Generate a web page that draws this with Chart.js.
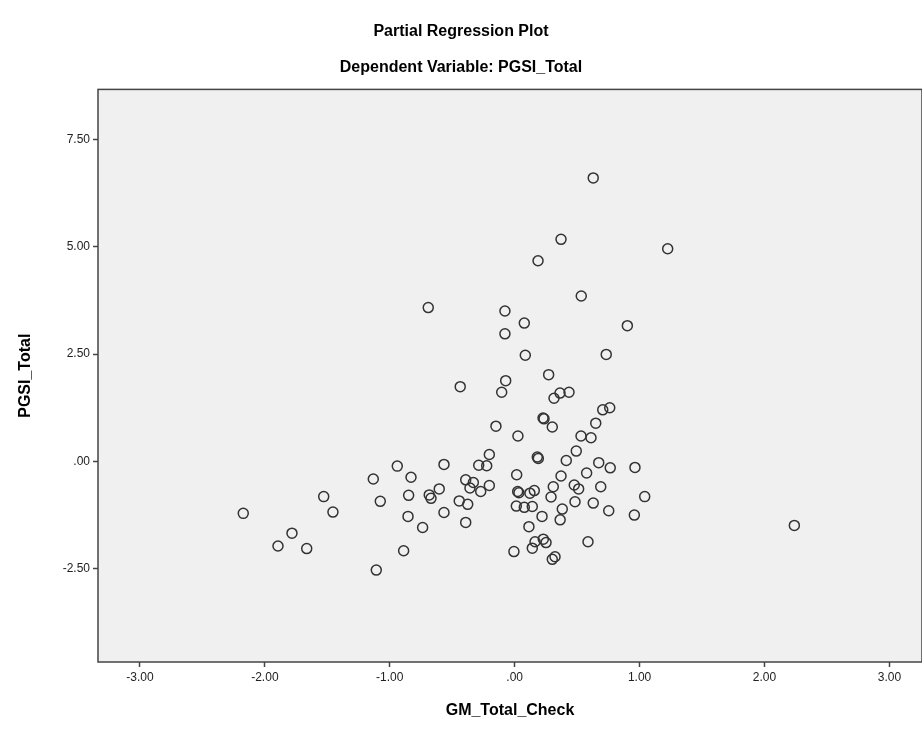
<!DOCTYPE html>
<html>
<head>
<meta charset="utf-8">
<script src="https://cdn.jsdelivr.net/npm/chart.js@4"></script>
<style>
  html, body { margin: 0; padding: 0; background: #ffffff; }
  #wrap { width: 922px; height: 733px; }
</style>
</head>
<body>
<div id="wrap"><canvas id="grafico"></canvas></div>
<script>
// GM_Total_Check (x) y PGSI_Total (y)
const gmTotal = [
  0.629, 0.371, 1.225, 0.187, 0.533, -0.692, -0.078, 0.077, 0.902, -0.078,
  0.085, 0.733, -0.436, -0.072, -0.104, 0.272, 0.363, 0.435, 0.315, 0.705,
  0.761, 0.227, 0.235, 0.301, -0.150, 0.026, 0.649, 0.531, 0.611, 0.493,
  0.181, 0.189, -0.203, 0.413, -0.566, -0.288, -0.224, 0.673, 0.765, 0.963,
  0.016, 0.576, 0.371, -0.392, -0.331, -0.358, -0.272, -0.203, -0.604, -0.684,
  -0.670, -0.444, -0.376, -0.566, -0.392, -0.737, 0.024, 0.034, 0.122, 0.157,
  0.309, 0.291, 0.477, 0.512, 0.689, 1.041, 0.013, 0.077, 0.141, 0.483,
  0.629, 0.381, 0.753, 0.958, 0.219, 0.364, 0.114, 0.163, 0.229, 0.251,
  0.141, -0.006, 0.323, 0.301, 0.587, -2.173, -1.783, -1.895, -1.665, -1.529,
  -1.455, -1.108, -1.132, -1.076, -0.940, -0.830, -0.849, -0.854, -0.889, 2.239
];
const pgsiTotal = [
  6.60, 5.17, 4.95, 4.67, 3.85, 3.58, 3.50, 3.22, 3.16, 2.97,
  2.47, 2.49, 1.74, 1.88, 1.61, 2.02, 1.59, 1.61, 1.47, 1.20,
  1.25, 1.01, 0.99, 0.80, 0.82, 0.59, 0.89, 0.59, 0.55, 0.24,
  0.10, 0.07, 0.16, 0.02, -0.07, -0.09, -0.10, -0.03, -0.15, -0.14,
  -0.31, -0.27, -0.34, -0.43, -0.49, -0.62, -0.70, -0.56, -0.64, -0.78,
  -0.86, -0.92, -1.00, -1.19, -1.42, -1.54, -0.70, -0.73, -0.74, -0.68,
  -0.59, -0.83, -0.55, -0.64, -0.59, -0.82, -1.04, -1.07, -1.05, -0.94,
  -0.97, -1.11, -1.15, -1.25, -1.28, -1.36, -1.52, -1.87, -1.81, -1.89,
  -2.02, -2.10, -2.22, -2.28, -1.87, -1.21, -1.67, -1.97, -2.03, -0.82,
  -1.18, -2.53, -0.41, -0.93, -0.11, -0.37, -0.79, -1.28, -2.08, -1.49
];

const xTicks = [-3, -2, -1, 0, 1, 2, 3];
const yTicks = [-2.5, 0, 2.5, 5, 7.5];

const puntos = gmTotal.map((x, i) => ({ x: x, y: pgsiTotal[i] }));

// formato SPSS: 0 -> ".00"
function formatoSpss(v) {
    var s = Number(v).toFixed(2);
    if (s === "0.00" || s === "-0.00") return ".00";
    return s;
}

const fondoPlot = {
    id: 'fondoPlot',
    beforeDraw(chart) {
        const { ctx, chartArea: a } = chart;
        ctx.save();
        ctx.fillStyle = '#f0f0f0';
        ctx.fillRect(a.left, a.top, a.right - a.left, a.bottom - a.top);
        ctx.restore();
    },
    afterDraw(chart) {
        const { ctx, chartArea: a } = chart;
        ctx.save();
        ctx.strokeStyle = '#444444';
        ctx.lineWidth = 1.5;
        ctx.strokeRect(a.left, a.top, a.right - a.left, a.bottom - a.top);
        ctx.restore();
    }
};

const fuente = "'Liberation Sans', Arial, sans-serif";

var ctx = document.getElementById('grafico').getContext('2d');
var scatter = new Chart(ctx, {
    type: 'scatter',
    data: {
        datasets: [{
            data: puntos,
            pointStyle: 'circle',
            pointRadius: 5,
            pointHoverRadius: 5,
            borderWidth: 1.5,
            borderColor: '#333333',
            backgroundColor: 'rgba(0,0,0,0)'
        }]
    },
    options: {
        responsive: true,
        maintainAspectRatio: false,
        animation: false,
        layout: { autoPadding: false, padding: { left: 0, right: 0, top: 0, bottom: 0 } },
        plugins: {
            legend: { display: false },
            tooltip: { enabled: false },
            title: {
                display: true,
                text: 'Partial Regression Plot',
                color: '#000000',
                font: { family: fuente, size: 16, weight: 'bold' },
                padding: { top: 22, bottom: 8 }
            },
            subtitle: {
                display: true,
                text: 'Dependent Variable: PGSI_Total',
                color: '#000000',
                font: { family: fuente, size: 16, weight: 'bold' },
                padding: { top: 9, bottom: 12 }
            }
        },
        scales: {
            x: {
                type: 'linear',
                min: -3.336,
                max: 3.261,
                afterFit: function (scale) {
                    scale.height = 71;
                    scale.paddingLeft = 0;
                    scale.paddingRight = 0;
                },
                afterBuildTicks: function (scale) {
                    scale.ticks = xTicks.map(v => ({ value: v }));
                },
                ticks: {
                    color: '#222222',
                    font: { family: fuente, size: 12 },
                    padding: 3,
                    maxRotation: 0,
                    callback: formatoSpss
                },
                grid: {
                    drawOnChartArea: false,
                    drawTicks: true,
                    tickLength: 5,
                    tickWidth: 1.5,
                    tickColor: '#444444'
                },
                border: { display: false },
                title: {
                    display: true,
                    text: 'GM_Total_Check',
                    color: '#000000',
                    font: { family: fuente, size: 16, weight: 'bold' },
                    padding: { top: 0, bottom: 13 }
                }
            },
            y: {
                type: 'linear',
                min: -4.67,
                max: 8.66,
                afterFit: function (scale) {
                    scale.width = 98;
                    scale.paddingTop = 0;
                    scale.paddingBottom = 0;
                },
                afterBuildTicks: function (scale) {
                    scale.ticks = yTicks.map(v => ({ value: v }));
                },
                ticks: {
                    color: '#222222',
                    font: { family: fuente, size: 12 },
                    padding: 3,
                    callback: formatoSpss
                },
                grid: {
                    drawOnChartArea: false,
                    drawTicks: true,
                    tickLength: 5,
                    tickWidth: 1.5,
                    tickColor: '#444444'
                },
                border: { display: false },
                title: {
                    display: true,
                    text: 'PGSI_Total',
                    color: '#000000',
                    font: { family: fuente, size: 16, weight: 'bold' },
                    padding: { top: 16, bottom: 0 }
                }
            }
        }
    },
    plugins: [fondoPlot]
});
</script>
</body>
</html>
